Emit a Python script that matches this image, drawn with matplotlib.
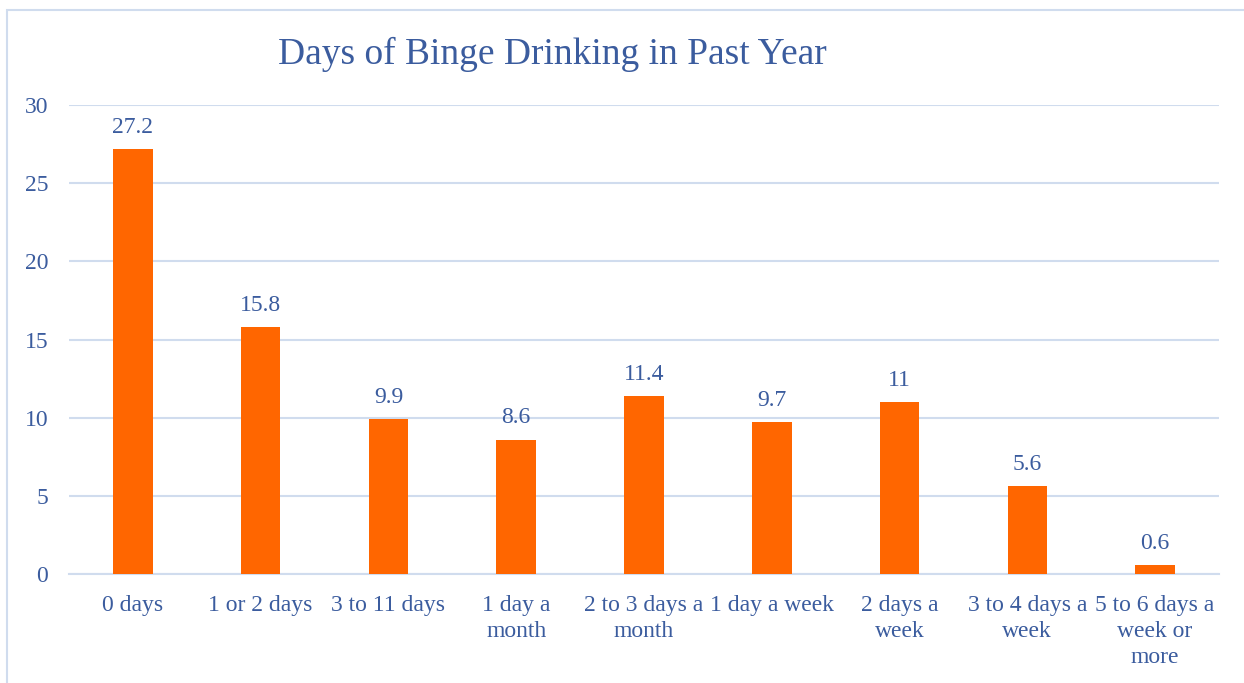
import matplotlib.pyplot as plt
from matplotlib.patches import Rectangle

categorias = ["0 days", "1 or 2 days", "3 to 11 days", "1 day a\nmonth",
              "2 to 3 days a\nmonth", "1 day a week", "2 days a\nweek",
              "3 to 4 days a\nweek", "5 to 6 days a\nweek or\nmore"]
valores = [27.2, 15.8, 9.9, 8.6, 11.4, 9.7, 11, 5.6, 0.6]
etiquetas = ["27.2", "15.8", "9.9", "8.6", "11.4", "9.7", "11", "5.6", "0.6"]
yticks = [0, 5, 10, 15, 20, 25, 30]

azul = "#3B5C9E"
naranja = "#FF6600"
rejilla = "#D0DCEE"

plt.rcParams["font.family"] = ["Liberation Serif", "DejaVu Serif"]

fig = plt.figure(figsize=(12.44, 6.83), dpi=100)
ax = fig.add_axes([69 / 1244, 1 - 574 / 683, 1150 / 1244, 469 / 683])

# marco del gráfico
fig.patches.append(Rectangle((7 / 1244, -0.1), 1.1, 0.1 + (1 - 10 / 683),
                             transform=fig.transFigure, fill=False,
                             edgecolor=rejilla, linewidth=1.5))

x = range(len(categorias))
barras = ax.bar(x, valores, width=0.31, color=naranja, zorder=3)

for b, t in zip(barras, etiquetas):
    ax.annotate(t, xy=(b.get_x() + b.get_width() / 2, b.get_height()),
                xytext=(0, 8), textcoords="offset points",
                ha="center", va="bottom", fontsize=17, color=azul)

ax.set_xlim(-0.5, len(categorias) - 0.5)
ax.set_ylim(0, 30)
ax.set_yticks(yticks)
ax.set_xticks(list(x))
ax.set_xticklabels(categorias, linespacing=1.31)
ax.tick_params(axis="both", length=0, labelsize=17, labelcolor=azul)
ax.tick_params(axis="x", pad=15)
ax.tick_params(axis="y", pad=15)
ax.grid(axis="y", color=rejilla, linewidth=1.5, zorder=0)
for s in ["top", "right", "left"]:
    ax.spines[s].set_visible(False)
ax.spines["bottom"].set_color(rejilla)
ax.spines["bottom"].set_linewidth(1.5)

fig.text(552 / 1244, 1 - 54 / 683, "Days of Binge Drinking in Past Year",
         ha="center", va="center", fontsize=27, color=azul)

fig.savefig("out.png", dpi=100)
